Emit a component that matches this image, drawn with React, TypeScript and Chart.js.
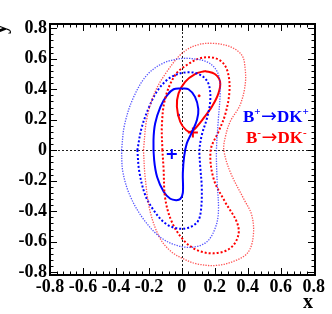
import React, { useEffect, useRef } from 'react';
import { Chart, registerables } from 'chart.js';

Chart.register(...registerables);

// ---- tick labels ----
const xTickValues = [-0.8, -0.6, -0.4, -0.2, 0, 0.2, 0.4, 0.6, 0.8];
const xTickLabels = ['-0.8', '-0.6', '-0.4', '-0.2', '0', '0.2', '0.4', '0.6', '0.8'];
const yTickValues = [-0.8, -0.6, -0.4, -0.2, 0, 0.2, 0.4, 0.6, 0.8];
const yTickLabels = ['-0.8', '-0.6', '-0.4', '-0.2', '0', '0.2', '0.4', '0.6', '0.8'];

// ---- contours (x, y) ----
const bPlus1Sigma: [number, number][] = [
  [0, 0.405], [0.04, 0.40], [0.08, 0.35], [0.10, 0.27], [0.092, 0.20], [0.062, 0.12], [0.03, 0.045],
  [0.014, -0.04], [0.006, -0.15], [0.006, -0.28], [-0.01, -0.32], [-0.035, -0.327], [-0.07, -0.318],
  [-0.11, -0.272], [-0.15, -0.175], [-0.168, -0.065], [-0.172, 0.065], [-0.162, 0.175], [-0.13, 0.285],
  [-0.09, 0.36], [-0.05, 0.40],
];
const bPlus2Sigma: [number, number][] = [
  [-0.27, 0.0], [-0.245, 0.143], [-0.202, 0.275], [-0.152, 0.384], [-0.091, 0.46], [-0.03, 0.498],
  [0.03, 0.511], [0.091, 0.504], [0.141, 0.471], [0.167, 0.417], [0.172, 0.318], [0.152, 0.209],
  [0.121, 0.10], [0.107, 0.0], [0.111, -0.097], [0.121, -0.25], [0.115, -0.403], [0.095, -0.469],
  [0.04, -0.508], [-0.03, -0.512], [-0.101, -0.479], [-0.172, -0.392], [-0.222, -0.294], [-0.258, -0.141],
];
const bPlus3Sigma: [number, number][] = [
  [-0.366, 0.0], [-0.348, 0.165], [-0.296, 0.34], [-0.212, 0.493], [-0.111, 0.572], [0, 0.602],
  [0.081, 0.598], [0.152, 0.58], [0.202, 0.537], [0.228, 0.471], [0.232, 0.362], [0.222, 0.209],
  [0.21, 0.0], [0.214, -0.2], [0.222, -0.403], [0.202, -0.512], [0.152, -0.6], [0.07, -0.635],
  [-0.03, -0.624], [-0.132, -0.569], [-0.236, -0.447], [-0.316, -0.294], [-0.358, -0.141],
];
const bMinus1Sigma: [number, number][] = [
  [0.14, 0.52], [0.20, 0.50], [0.232, 0.45], [0.222, 0.373], [0.182, 0.285], [0.131, 0.209],
  [0.081, 0.143], [0.054, 0.121], [0.026, 0.132], [-0.01, 0.187], [-0.03, 0.285], [-0.02, 0.373],
  [0.02, 0.449], [0.08, 0.50],
];
const bMinus2Sigma: [number, number][] = [
  [-0.118, 0.0], [-0.121, 0.165], [-0.101, 0.34], [-0.041, 0.493], [0.03, 0.559], [0.111, 0.603],
  [0.192, 0.607], [0.252, 0.57], [0.283, 0.493], [0.288, 0.373], [0.262, 0.231], [0.222, 0.121],
  [0.175, 0.0], [0.192, -0.184], [0.262, -0.338], [0.333, -0.469], [0.343, -0.556], [0.293, -0.643],
  [0.192, -0.676], [0.091, -0.654], [0.01, -0.589], [-0.061, -0.469], [-0.101, -0.316], [-0.111, -0.119],
];
const bMinus3Sigma: [number, number][] = [
  [-0.233, 0.0], [-0.212, 0.209], [-0.162, 0.384], [-0.091, 0.515], [0, 0.635], [0.091, 0.69],
  [0.192, 0.701], [0.293, 0.679], [0.364, 0.624], [0.384, 0.537], [0.384, 0.428], [0.353, 0.296],
  [0.293, 0.187], [0.262, 0.078], [0.255, 0.0], [0.293, -0.141], [0.374, -0.316], [0.424, -0.425],
  [0.434, -0.556], [0.404, -0.666], [0.333, -0.72], [0.212, -0.755], [0.091, -0.745], [0.01, -0.712],
  [-0.061, -0.668], [-0.132, -0.578], [-0.192, -0.403], [-0.222, -0.184],
];

// ---- best-fit markers ----
const bPlusBest: [number, number][] = [[-0.061, -0.025]];
const bMinusBest: [number, number][] = [[0.067, 0.117]];
const bPlusDot: [number, number][] = [[-0.02, 0.231]];
const bMinusDot: [number, number][] = [[0.105, 0.357]];

// ---- legend labels ----
const legendBPlus = [{ t: 'B' }, { t: '+', sup: true }, { t: '\u2192', arrow: true }, { t: 'DK' }, { t: '+', sup: true }];
const legendBMinus = [{ t: 'B' }, { t: '-', sup: true }, { t: '\u2192', arrow: true }, { t: 'DK' }, { t: '-', sup: true }];

const BLUE = '#0000ff';
const RED = '#ff0000';
const FONT = '"Liberation Serif", "Times New Roman", serif';

const closed = (pts: [number, number][]) => [...pts, pts[0]].map(([x, y]) => ({ x, y }));
const pts = (p: [number, number][]) => p.map(([x, y]) => ({ x, y }));

const lineDs = (data: [number, number][], color: string, width: number, dash: number[]) => ({
  data: closed(data),
  showLine: true,
  borderColor: color,
  borderWidth: width,
  borderDash: dash,
  pointRadius: 0,
  tension: 0.35,
  fill: false,
});

const framePlugin = {
  id: 'rootFrame',
  beforeDatasetsDraw(chart: any) {
    const { ctx, chartArea: a, scales } = chart;
    const x0 = scales.x.getPixelForValue(0);
    const y0 = scales.y.getPixelForValue(0);
    ctx.save();
    ctx.strokeStyle = '#222';
    ctx.lineWidth = 1;
    ctx.setLineDash([2, 2]);
    ctx.beginPath();
    ctx.moveTo(a.left, Math.round(y0) + 0.5);
    ctx.lineTo(a.right, Math.round(y0) + 0.5);
    ctx.moveTo(Math.round(x0) + 0.5, a.top);
    ctx.lineTo(Math.round(x0) + 0.5, a.bottom);
    ctx.stroke();
    ctx.restore();
  },
  afterDatasetsDraw(chart: any) {
    const { ctx, chartArea: a, scales } = chart;
    ctx.save();
    ctx.strokeStyle = '#000';
    ctx.lineWidth = 1;
    ctx.setLineDash([]);
    ctx.beginPath();
    // ticks: major every 0.2, minor every 0.04
    for (let i = -25; i <= 25; i++) {
      const v = i * 0.04;
      const major = i % 5 === 0;
      const len = major ? 7 : 3.5;
      const px = scales.x.getPixelForValue(v);
      if (px >= a.left && px <= a.right) {
        const xx = Math.round(px) + 0.5;
        ctx.moveTo(xx, a.bottom);
        ctx.lineTo(xx, a.bottom - len);
        ctx.moveTo(xx, a.top);
        ctx.lineTo(xx, a.top + len);
      }
      const py = scales.y.getPixelForValue(v);
      if (py >= a.top && py <= a.bottom) {
        const yy = Math.round(py) + 0.5;
        ctx.moveTo(a.left, yy);
        ctx.lineTo(a.left + len, yy);
        ctx.moveTo(a.right, yy);
        ctx.lineTo(a.right - len, yy);
      }
    }
    ctx.stroke();
    ctx.lineWidth = 2;
    ctx.strokeRect(a.left, a.top, a.right - a.left, a.bottom - a.top);

    // legend texts
    const drawSup = (parts: { t: string; sup?: boolean; arrow?: boolean }[], x: number, y: number, color: string) => {
      ctx.fillStyle = color;
      ctx.textBaseline = 'alphabetic';
      ctx.textAlign = 'left';
      let cx = x;
      for (const p of parts) {
        if (p.arrow) ctx.font = `19px "DejaVu Sans", sans-serif`;
        else ctx.font = p.sup ? `bold 11px ${FONT}` : `bold 17px ${FONT}`;
        ctx.fillText(p.t, cx, p.sup ? y - 7 : p.arrow ? y - 0.5 : y);
        cx += ctx.measureText(p.t).width + (p.sup ? 0.5 : 0);
      }
    };
    drawSup(legendBPlus, 243, 122, BLUE);
    drawSup(legendBMinus, 246, 143, RED);

    // axis titles
    ctx.fillStyle = '#000';
    ctx.font = `bold 20px ${FONT}`;
    ctx.textAlign = 'right';
    ctx.textBaseline = 'alphabetic';
    ctx.fillText('x', 313, 308);
    ctx.save();
    ctx.translate(6, 24);
    ctx.rotate(-Math.PI / 2);
    ctx.fillText('y', 0, 0);
    ctx.restore();
    ctx.restore();
  },
};

export default function App() {
  const ref = useRef<HTMLCanvasElement>(null);
  useEffect(() => {
    const canvas = ref.current!;
    const tickFont = { family: FONT, size: 18, weight: 'bold' as const };
    const chart = new Chart(canvas, {
      type: 'scatter',
      data: {
        datasets: [
          lineDs(bPlus3Sigma, 'rgba(40,40,255,0.8)', 1.3, [1.3, 1.3]),
          lineDs(bMinus3Sigma, 'rgba(255,40,40,0.8)', 1.3, [1.3, 1.3]),
          lineDs(bPlus2Sigma, BLUE, 2, [2, 2]),
          lineDs(bMinus2Sigma, RED, 2, [2, 2]),
          lineDs(bPlus1Sigma, BLUE, 2, []),
          lineDs(bMinus1Sigma, RED, 2, []),
          { data: pts(bPlusBest), pointStyle: 'cross', pointRadius: 5, borderColor: BLUE, borderWidth: 2, showLine: false },
          { data: pts(bMinusBest), pointStyle: 'cross', pointRadius: 5, borderColor: RED, borderWidth: 2, showLine: false },
          { data: pts(bPlusDot), pointStyle: 'rect', pointRadius: 1.2, borderColor: BLUE, backgroundColor: BLUE, borderWidth: 1, showLine: false },
          { data: pts(bMinusDot), pointStyle: 'rect', pointRadius: 1.2, borderColor: RED, backgroundColor: RED, borderWidth: 1, showLine: false },
        ] as any,
      },
      options: {
        animation: false,
        responsive: false,
        devicePixelRatio: 1,
        layout: { padding: { top: 24, right: 17, left: 0, bottom: 0 } },
        plugins: { legend: { display: false }, tooltip: { enabled: false } },
        scales: {
          x: {
            type: 'linear',
            min: -0.8,
            max: 0.808,
            grid: { display: false, drawTicks: false },
            border: { display: false },
            afterBuildTicks: (s: any) => { s.ticks = xTickValues.map((v) => ({ value: v })); },
            afterFit: (s: any) => { s.height = 39; },
            ticks: {
              autoSkip: false, maxRotation: 0, minRotation: 0, padding: 2, color: '#000', font: tickFont,
              callback: (_v: any, i: number) => xTickLabels[i],
            },
          },
          y: {
            type: 'linear',
            min: -0.818,
            max: 0.828,
            grid: { display: false, drawTicks: false },
            border: { display: false },
            afterBuildTicks: (s: any) => { s.ticks = yTickValues.map((v) => ({ value: v })); },
            afterFit: (s: any) => { s.width = 50; },
            ticks: {
              autoSkip: false, padding: 3, color: '#000', font: tickFont,
              callback: (_v: any, i: number) => yTickLabels[i],
            },
          },
        },
      } as any,
      plugins: [framePlugin],
    });
    return () => chart.destroy();
  }, []);
  return (
    <div style={{ position: 'fixed', left: 0, top: 0, width: 332, height: 314, background: '#fff' }}>
      <canvas ref={ref} width={332} height={314} style={{ display: 'block', width: 332, height: 314 }} />
    </div>
  );
}
